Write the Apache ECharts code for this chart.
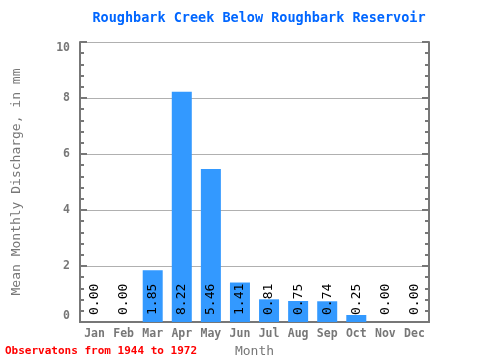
<!DOCTYPE html>
<html><head><meta charset="utf-8">
<script src="https://cdn.jsdelivr.net/npm/echarts@6/dist/echarts.min.js"></script>
<style>html,body{margin:0;padding:0;background:#fff}#c{width:480px;height:360px}</style>
</head><body><div id="c"></div>
<script>
const months = ['Jan','Feb','Mar','Apr','May','Jun','Jul','Aug','Sep','Oct','Nov','Dec'];
const discharge = [0.00,0.00,1.85,8.22,5.46,1.41,0.81,0.75,0.74,0.25,0.00,0.00];
const yTicks = [0,2,4,6,8,10];
const titleText = 'Roughbark Creek Below Roughbark Reservoir';
const footText = 'Observatons from 1944 to 1972';

const mono = 'DejaVu Sans Mono';
const axisGrey = '#777777';
const chart = echarts.init(document.getElementById('c'));
chart.setOption({
  animation: false,
  title: {text: titleText, left: 259, top: 11, padding: 0, textAlign: 'center',
    textStyle: {fontFamily: mono, fontSize: 13.5, fontWeight: 'bold', color: '#0066ff'}},
  graphic: [{type: 'text', left: 5, top: 346,
    style: {text: footText, fontFamily: mono, fontSize: 11, fontWeight: 'bold', fill: '#ff0000'}}],
  grid: {left: 80, right: 51, top: 42, bottom: 38, containLabel: false, outerBoundsMode: 'none'},
  xAxis: [{
    type: 'category', data: months, position: 'bottom',
    axisLine: {lineStyle: {color: axisGrey, width: 2}},
    axisTick: {inside: true, length: 5, lineStyle: {color: axisGrey, width: 2}},
    axisLabel: {fontFamily: mono, fontSize: 11.5, fontWeight: 'bold', color: axisGrey, margin: 6},
    name: 'Month', nameLocation: 'middle', nameGap: 20,
    nameTextStyle: {fontFamily: mono, fontSize: 13, color: axisGrey}
  }, {
    type: 'category', data: months, position: 'top',
    axisLine: {lineStyle: {color: axisGrey, width: 2}},
    axisTick: {inside: true, length: 6, lineStyle: {color: axisGrey, width: 2}},
    axisLabel: {show: false}
  }],
  yAxis: [{
    type: 'value', min: 0, max: 10, interval: 2, position: 'left',
    axisLine: {show: true, lineStyle: {color: axisGrey, width: 2}},
    axisTick: {show: true, inside: true, length: 7, lineStyle: {color: axisGrey, width: 2}},
    minorTick: {show: true, splitNumber: 5, length: 4, lineStyle: {color: axisGrey, width: 2}},
    splitLine: {show: true, lineStyle: {color: '#b0b0b0', width: 1}},
    axisLabel: {fontFamily: mono, fontSize: 11.5, fontWeight: 'bold', color: axisGrey, margin: 10,
      verticalAlignMinLabel: 'bottom', verticalAlignMaxLabel: 'top',
      formatter: v => yTicks.includes(v) ? String(v) : ''},
    name: 'Mean Monthly Discharge, in mm', nameLocation: 'middle', nameGap: 57,
    nameTextStyle: {fontFamily: mono, fontSize: 13, color: axisGrey}
  }, {
    type: 'value', min: 0, max: 10, interval: 2, position: 'right',
    axisLine: {show: true, lineStyle: {color: axisGrey, width: 2}},
    axisTick: {show: true, inside: true, length: 7, lineStyle: {color: axisGrey, width: 2}},
    minorTick: {show: true, splitNumber: 5, length: 4, lineStyle: {color: axisGrey, width: 2}},
    splitLine: {show: false},
    axisLabel: {show: false}
  }],
  series: [{
    type: 'bar', data: discharge, barWidth: 20, xAxisIndex: 0, yAxisIndex: 0,
    itemStyle: {color: '#3399ff'},
    label: {show: true, position: 'insideBottom', rotate: 90, align: 'left', verticalAlign: 'middle',
      distance: 7, formatter: p => p.value.toFixed(2),
      fontFamily: mono, fontSize: 13, color: '#000'}
  }]
});
</script></body></html>
